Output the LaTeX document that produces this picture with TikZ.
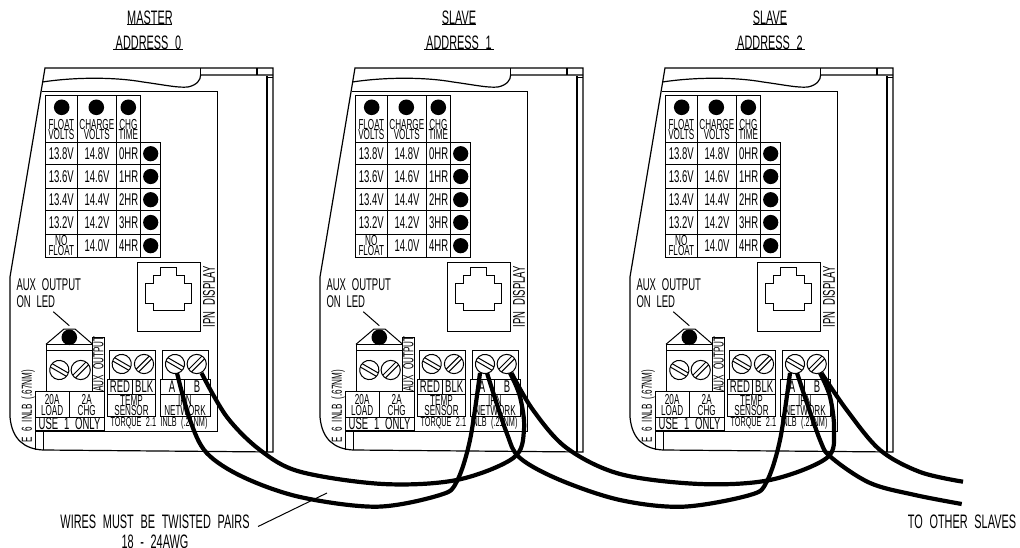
\documentclass[tikz,border=0pt]{standalone}
\usepackage{fontspec}
\newfontfamily\cadfont[FakeStretch=0.56,WordSpace=2.2]{Liberation Sans}
\begin{document}
\begin{tikzpicture}[
				x = 1pt, y = -1pt,
				line width = 1pt,
				bigtext/.style = {font=\cadfont\fontsize{19.5}{19.5}\selectfont,inner sep=0},
				celltext/.style = {font=\cadfont\fontsize{17}{17}\selectfont,inner sep=0},
				tinytext/.style = {font=\cadfont\fontsize{14.5}{10.5}\selectfont,inner sep=0,align=center},
				torquetext/.style = {font=\cadfont\fontsize{13}{13}\selectfont,inner sep=0},
				shell/.style = {line width=1.2pt},
				wirepair/.style = {line width=4.2pt,smooth,tension=.55},
				screw/.pic = {
					\draw (0,0) circle (9.6);
					\draw (-9.2,-1.9) -- (9.2,-1.9) (-9.2,1.9) -- (9.2,1.9);
				},
				charger/.pic = {
					% housing
					\draw[shell] (200.6,68) -- (45,68) -- (10,277) -- (10,417) .. controls (12,440) and (25,449) .. (43,450) -- (273,452) -- (273,68) -- (200.6,68);
					\draw[shell] (42.5,82) .. controls (75,77) and (115,77) .. (143,82) .. controls (165,85) and (178,88) .. (188,87) .. controls (197,85) and (200.6,80) .. (200.6,75) -- (273,75);
					\draw[shell] (200.6,68) -- (200.6,75) (257,68) -- (257,75);
					\draw[line width=1.7pt] (267,76) -- (267,452);
					\draw (267,78) -- (273,78);
					% panel
					\draw (42,91.7) -- (217,91.7) -- (217,431) -- (35,431);
					\draw (43,431) -- (43,450) (35,391.7) -- (35,450);
					% setting table
					\draw (45.3,142.3) -- (45.3,96) -- (140.7,96) -- (140.7,142.3);
					\draw (77.3,96) -- (77.3,257.3) (116.7,96) -- (116.7,257.3) (140.7,142.3) -- (140.7,257.3);
					\draw (45.3,142.3) rectangle (160.7,257.3);
					\foreach \ya in {165,188.3,211,234.3}
						\draw (45.3,\ya) -- (160.7,\ya);
					\foreach \xa in {61.7,96.3,128.3}
						\fill (\xa,107.3) circle (7.8);
					\node[tinytext] (float) at (61.3,129.5) {FLOAT\\VOLTS};
					\node[tinytext] (charge) at (96.8,129.5) {CHARGE\\VOLTS};
					\node[tinytext] (chgtime) at (128.3,129.5) {CHG\\TIME};
					\foreach \ya/\vf/\vc/\hr in {153.7/13.8V/14.8V/0HR,176.5/13.6V/14.6V/1HR,199.7/13.4V/14.4V/2HR,222.5/13.2V/14.2V/3HR,245.7/{}/14.0V/4HR}{
						\node[celltext] at (61.3,\ya) {\vf};
						\node[celltext] at (97,\ya) {\vc};
						\node[celltext] at (128.7,\ya) {\hr};
						\fill (150.7,\ya) circle (7.6);
					}
					\node[tinytext] (nofloat) at (61.3,245.7) {NO\\FLOAT};
					% display jack
					\draw (137.3,262.7) rectangle (200,331.7);
					\draw (160,267.3) -- (176.7,267.3) -- (176.7,275.7) -- (184,275.7) -- (184,283.3) -- (191.7,283.3) -- (191.7,303.3) -- (184,303.3) -- (184,310.7) -- (153.3,310.7) -- (153.3,303.3) -- (145,303.3) -- (145,283.3) -- (153.3,283.3) -- (153.3,275.7) -- (160,275.7) -- cycle;
					\node[celltext,rotate=90] (display) at (209,296.7) {IPN DISPLAY};
					% aux output
					\node[celltext,anchor=west] (auxa) at (16,285) {AUX OUTPUT};
					\node[celltext,anchor=west] (auxb) at (16,301.5) {ON LED};
					\draw (53.3,311.7) -- (69.3,325.7);
					\draw (46,344.3) -- (64,329) -- (75,329) -- (92.7,344.3);
					\fill (69.3,337.3) circle (7.8);
					\draw (46,344.3) rectangle (92.7,391.7);
					\draw (46,350) -- (92.7,350);
					\draw (92.7,337) rectangle (104,391.7);
					\node[tinytext,rotate=90] (auxout) at (98.5,364) {AUX OUTPUT};
					\pic[rotate=-30] at (59.3,370) {screw};
					\pic[rotate=45] at (80.7,370) {screw};
					\draw (35,391.7) rectangle (104,430);
					\draw (35,417.3) -- (104,417.3) (69.3,391.7) -- (69.3,417.3);
					\node[tinytext] (load) at (52.2,405) {20A\\LOAD};
					\node[tinytext] (chg) at (86.7,405) {2A\\CHG};
					\node[celltext] (use) at (69.5,424) {USE 1 ONLY};
					\node[tinytext,rotate=90] (torquea) at (28,406) {E 6 INLB (.67NM)};
					% temp sensor
					\draw (109.3,350) rectangle (155.7,379);
					\pic[rotate=-30] at (121.7,364) {screw};
					\pic[rotate=45] at (144,364) {screw};
					\draw (107.3,379) rectangle (155.7,416.7);
					\draw (107.3,394) -- (155.7,394) (132.7,379) -- (132.7,394);
					\node[celltext] (red) at (120,386.5) {RED};
					\node[celltext] (blk) at (144.2,386.5) {BLK};
					\node[tinytext] (temp) at (131.5,405.5) {TEMP\\SENSOR};
					% network
					\draw (162.3,350) rectangle (208.3,379);
					\pic[rotate=-30] at (175,364) {screw};
					\pic[rotate=45] at (196.7,364) {screw};
					\draw (160,379) rectangle (210,416.7);
					\draw (160,394) -- (210,394) (184,379) -- (184,394);
					\node[celltext] (aterm) at (172,386.5) {A};
					\node[celltext] (bterm) at (197,386.5) {B};
					\node[tinytext] (net) at (185,405.5) {IPN\\NETWORK};
					\node[torquetext] (torqueb) at (159,423.5) {TORQUE 2.1 INLB (.21NM)};
					% wire ends
					\coordinate (-ain) at (170,373);
					\coordinate (-aout) at (177,373);
					\coordinate (-bin) at (200,373);
					\coordinate (-bout) at (201.5,373);
				}
			]

			\useasboundingbox (0,0) rectangle (1020,548);

			\pic (mone) at (0,0) {charger};
			\pic (mtwo) at (310,0) {charger};
			\pic (mthree) at (620,0) {charger};

			\node[bigtext] (master) at (150,17.5) {MASTER};
			\node[bigtext] (addra) at (148.5,43) {ADDRESS 0};
			\node[bigtext] (slavea) at (459,17.5) {SLAVE};
			\node[bigtext] (addrb) at (459,43) {ADDRESS 1};
			\node[bigtext] (slaveb) at (770,17.5) {SLAVE};
			\node[bigtext] (addrc) at (770,43) {ADDRESS 2};
			\draw (127.3,24.3) -- (172.3,24.3) (113.3,50) -- (183.3,50);
			\draw (442,24.3) -- (476,24.3) (424,50) -- (494,50);
			\draw (753,24.3) -- (787,24.3) (735,50) -- (805,50);

			\coordinate (endb) at (963,481.7);
			\coordinate (enda) at (961.7,504);

			\draw[wirepair] plot coordinates {(mone-aout) (190,420) (206.7,453) (243,477) (300,497) (376.7,506.7) (440,495) (456.7,481.7) (470,440) (mtwo-ain)};
			\draw[wirepair] plot coordinates {(mone-bout) (226.7,416.7) (260,450) (300,471.7) (383,484) (456.7,480) (513.3,458) (524,430) (520,396.7) (mtwo-bin)};
			\draw[wirepair] plot coordinates {(mtwo-aout) (506.7,433) (520,458) (560,480) (620,500) (683,506.7) (750,495) (766.7,481.7) (780,440) (mthree-ain)};
			\draw[wirepair] plot coordinates {(mtwo-bout) (533,410) (566.7,448) (620,474) (700,484) (770,480) (826.7,458) (834,430) (830,396.7) (mthree-bin)};
			\draw[wirepair] plot coordinates {(mthree-aout) (820,440) (832,458) (870,483) (915,495) (enda)};
			\draw[wirepair] plot coordinates {(mthree-bout) (846.7,410) (880,450) (920,472) (endb)};

			\node[bigtext] (twisted) at (155,521.5) {WIRES MUST BE TWISTED PAIRS};
			\node[bigtext] (gauge) at (155,541.5) {18 - 24AWG};
			\node[bigtext] (others) at (962,521.5) {TO OTHER SLAVES};
			\coordinate (leader) at (327,493);
			\draw (twisted.east) ++(8,5) -- (leader);

			\end{tikzpicture}
\end{document}
